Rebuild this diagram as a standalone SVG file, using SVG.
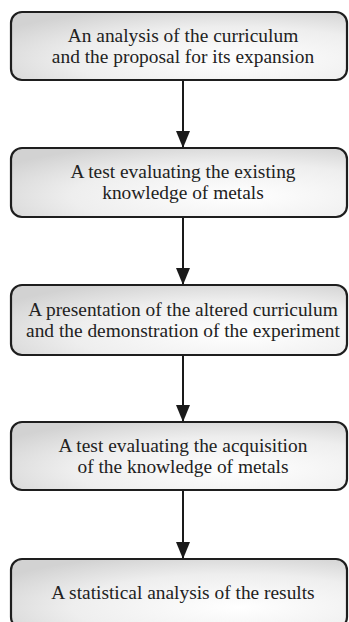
<svg xmlns="http://www.w3.org/2000/svg" width="349" height="622" viewBox="0 0 349 622">
<defs>
<radialGradient id="g" cx="0.65" cy="0.7" r="0.8" fx="0.68" fy="0.7">
<stop offset="0" stop-color="#ffffff"/>
<stop offset="0.6" stop-color="#eeeeee"/>
<stop offset="1" stop-color="#d2d2d2"/>
</radialGradient>
<marker id="ah" markerUnits="userSpaceOnUse" markerWidth="17" markerHeight="14" refX="17" refY="7" orient="auto" viewBox="0 0 17 14">
<path d="M0,0 L17,7 L0,14 Z" fill="#1a1a1a"/>
</marker>
<style>
.box{fill:url(#g);stroke:#1e1e1e;stroke-width:2.2}
.t{font-size:19.4px;fill:#222;text-anchor:middle}
.c{stroke:#1a1a1a;stroke-width:2;fill:none;marker-end:url(#ah)}
</style>
</defs>
<rect width="349" height="622" fill="#ffffff"/>
<g id="connectors">
<line class="c" x1="183" y1="81" x2="183" y2="148"/>
<line class="c" x1="183" y1="218" x2="183" y2="285"/>
<line class="c" x1="183" y1="356" x2="183" y2="422"/>
<line class="c" x1="183" y1="491" x2="183" y2="559"/>
</g>
<g font-family="Liberation Serif, DejaVu Serif, Times New Roman, serif">
<g id="n1">
<rect class="box" x="11" y="12" width="336" height="68" rx="11"/>
<text class="t" x="183" y="41.5">An analysis of the curriculum</text>
<text class="t" x="183" y="62.5">and the proposal for its expansion</text>
</g>
<g id="n2">
<rect class="box" x="11" y="148" width="336" height="69" rx="11"/>
<text class="t" x="183" y="178">A test evaluating the existing</text>
<text class="t" x="183" y="199">knowledge of metals</text>
</g>
<g id="n3">
<rect class="box" x="11" y="285" width="336" height="70" rx="11"/>
<text class="t" x="183" y="315.5">A presentation of the altered curriculum</text>
<text class="t" x="183" y="336.5">and the demonstration of the experiment</text>
</g>
<g id="n4">
<rect class="box" x="11" y="422" width="336" height="68" rx="11"/>
<text class="t" x="183" y="451.5">A test evaluating the acquisition</text>
<text class="t" x="183" y="472.5">of the knowledge of metals</text>
</g>
<g id="n5">
<rect class="box" x="11" y="559" width="336" height="69" rx="11"/>
<text class="t" x="183" y="599">A statistical analysis of the results</text>
</g>
</g>
</svg>
